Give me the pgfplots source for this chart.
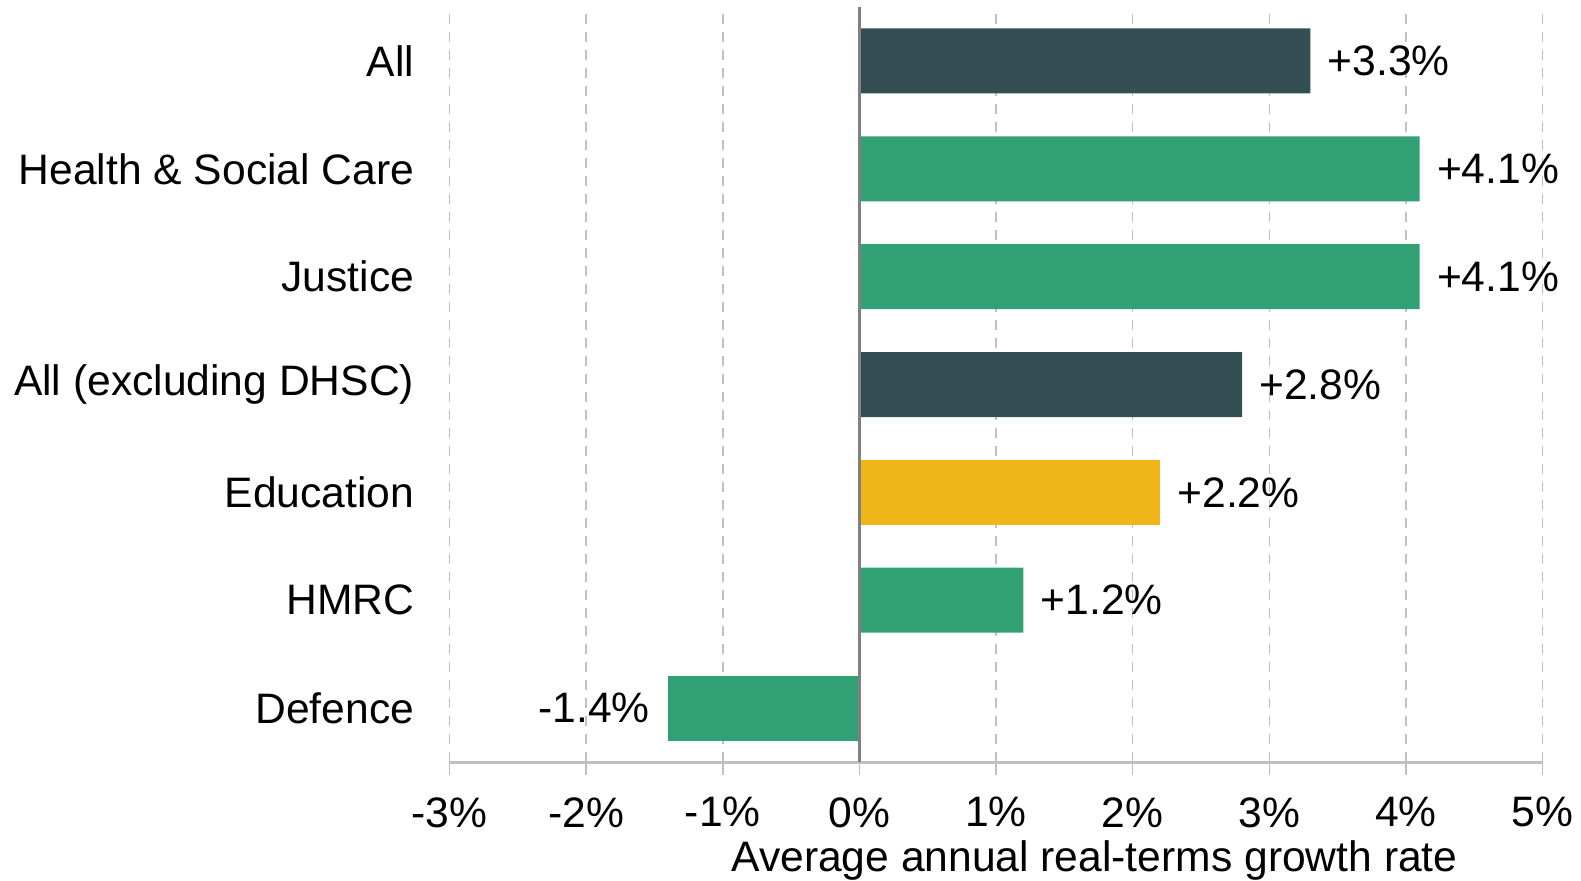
\documentclass[border=0pt]{standalone}
\usepackage{pgfplots}
\pgfplotsset{compat=1.18}
\usepackage{fontspec}
\setmainfont{Liberation Sans}
\definecolor{darkslate}{RGB}{51,79,84}
\definecolor{ifsgreen}{RGB}{49,160,116}
\definecolor{ifsyellow}{RGB}{240,181,25}
\definecolor{gridgray}{RGB}{192,192,192}
\definecolor{zerogray}{RGB}{128,128,128}
\begin{document}
\begin{tikzpicture}
\useasboundingbox (0,0) rectangle (790.5pt,440pt);
\begin{axis}[
  at={(224.8pt,59pt)}, anchor=south west,
  scale only axis, width=546.5pt, height=377.5pt,
  xmin=-3, xmax=5, ymin=-0.5, ymax=6.5,
  xbar, bar width=32.5pt, bar shift=0pt,
  axis line style={draw=none},
  xtick={-3,-2,-1,0,1,2,3,4,5},
  xticklabels={-3\%,-2\%,-1\%,0\%,1\%,2\%,3\%,4\%,5\%},
  xtick pos=bottom, xtick align=outside,
  major tick length=6.5pt,
  x tick style={draw=gridgray, line width=0.75pt},
  ytick={0,1,2,3,4,5,6},
  yticklabels={Defence,HMRC,Education,All (excluding DHSC),Justice,Health \& Social Care,All},
  y tick style={draw=none},
  ytick pos=left,
  xmajorgrids,
  grid style={gridgray, dash pattern=on 5pt off 4pt, line width=0.75pt},
  tick label style={font=\fontsize{21.3}{25}\selectfont},
  xticklabel style={inner sep=0pt, anchor=north, yshift=-11pt},
  yticklabel style={inner sep=0pt, anchor=east, xshift=-17.5pt+6.5pt},
  xlabel={Average annual real-terms growth rate},
  xlabel style={font=\fontsize{21.3}{25}\selectfont, inner sep=0pt, at={(axis description cs:0.59,0)}, anchor=north, yshift=-39pt},
  point meta=explicit symbolic,
  nodes near coords,
  every node near coord/.append style={font=\fontsize{21.3}{25}\selectfont, text=black, anchor=west, inner sep=0pt, xshift=8.5pt},
  clip=false,
]
\draw[gridgray, line width=1.5pt] (axis cs:-3,-0.5) -- (axis cs:5,-0.5);
\addplot[fill=darkslate, draw=none] coordinates {(3.3,6) [+3.3\%] (2.8,3) [+2.8\%]};
\addplot[fill=ifsgreen, draw=none] coordinates {(4.1,5) [+4.1\%] (4.1,4) [+4.1\%] (1.2,1) [+1.2\%]};
\addplot[fill=ifsyellow, draw=none] coordinates {(2.2,2) [+2.2\%]};
\addplot[fill=ifsgreen, draw=none, every node near coord/.append style={anchor=east, xshift=-17.5pt}] coordinates {(-1.4,0) [-1.4\%]};
\draw[zerogray, line width=1.5pt] (axis cs:0,-0.5) -- (axis cs:0,6.5);
\end{axis}
\end{tikzpicture}
\end{document}
